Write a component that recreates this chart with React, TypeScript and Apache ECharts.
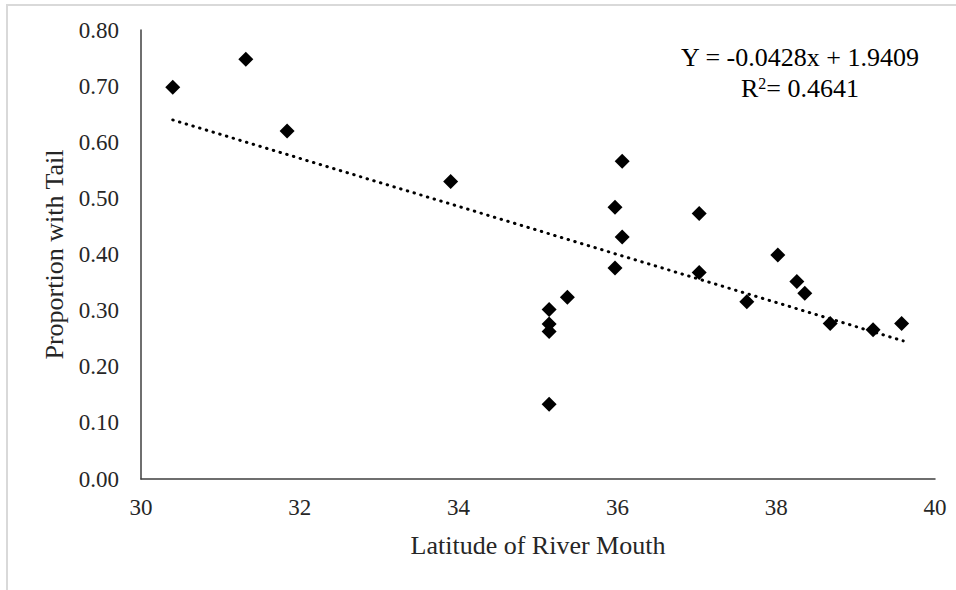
import React, { useEffect, useRef } from "react";
import * as echarts from "echarts";

const latitude = [30.4, 31.32, 31.84, 33.9, 35.14, 35.14, 35.14, 35.14, 35.37, 35.97, 35.97, 36.06, 36.06, 37.03, 37.03, 37.63, 38.02, 38.26, 38.36, 38.68, 39.22, 39.58];
const proportion = [0.698, 0.748, 0.62, 0.53, 0.302, 0.276, 0.263, 0.133, 0.324, 0.376, 0.484, 0.566, 0.431, 0.473, 0.368, 0.316, 0.399, 0.352, 0.331, 0.277, 0.266, 0.277];
const trendSlope = -0.0428;
const trendIntercept = 1.9409;
const trendX = [30.4, 39.6];
const equationText = ["Y = -0.0428x + 1.9409", "R{sup|2}= 0.4641"];

const FONT = "'Liberation Serif', 'Times New Roman', serif";

export default function App() {
  const ref = useRef<HTMLDivElement>(null);
  useEffect(() => {
    if (!ref.current) return;
    const chart = echarts.init(ref.current, null, { renderer: "svg" });
    const pts = latitude.map((x, i) => [x, proportion[i]]);
    const trend = trendX.map((x) => [x, trendSlope * x + trendIntercept]);
    chart.setOption({
      animation: false,
      backgroundColor: "#ffffff",
      grid: { left: 141, right: 21, top: 30, bottom: 111 },
      graphic: [
        {
          type: "rect",
          shape: { x: 7, y: 5, width: 1000, height: 700 },
          style: { fill: "none", stroke: "#d9d9d9", lineWidth: 2 },
          silent: true,
        },
        {
          type: "text",
          x: 800,
          y: 57,
          style: {
            text: equationText[0],
            font: "26px " + FONT,
            fill: "#000000",
            align: "center",
            verticalAlign: "middle",
          },
        },
        {
          type: "text",
          x: 800,
          y: 88,
          style: {
            text: equationText[1],
            font: "26px " + FONT,
            fill: "#000000",
            align: "center",
            verticalAlign: "middle",
            rich: {
              sup: { fontSize: 16, fontFamily: FONT, verticalAlign: "top", lineHeight: 26, padding: [0, 0, 14, 0] },
            },
          },
        },
      ],
      xAxis: {
        type: "value",
        min: 30,
        max: 40,
        interval: 2,
        splitLine: { show: false },
        axisLine: { show: true, lineStyle: { color: "#3f3f3f", width: 1.5 } },
        axisTick: { show: false },
        axisLabel: { color: "#262626", fontSize: 23, fontFamily: FONT, margin: 17 },
        name: "Latitude of River Mouth",
        nameLocation: "middle",
        nameGap: 53,
        nameTextStyle: { color: "#262626", fontSize: 26, fontFamily: FONT },
      },
      yAxis: {
        type: "value",
        min: 0,
        max: 0.8,
        interval: 0.1,
        splitLine: { show: false },
        axisLine: { show: true, lineStyle: { color: "#3f3f3f", width: 1.5 } },
        axisTick: { show: false },
        axisLabel: {
          color: "#262626",
          fontSize: 23,
          fontFamily: FONT,
          margin: 22,
          formatter: (v: number) => v.toFixed(2),
        },
        name: "Proportion with Tail",
        nameLocation: "middle",
        nameGap: 68,
        nameTextStyle: { color: "#262626", fontSize: 26, fontFamily: FONT },
      },
      series: [
        {
          type: "line",
          data: trend,
          symbol: "none",
          lineStyle: { color: "#000000", width: 3, type: [0.5, 6.5], cap: "round" },
          z: 1,
        },
        {
          type: "scatter",
          data: pts,
          symbol: "diamond",
          symbolSize: 15,
          itemStyle: { color: "#000000", opacity: 1 },
          z: 2,
        },
      ],
    });
    return () => chart.dispose();
  }, []);
  return (
    <div
      ref={ref}
      style={{ position: "fixed", left: 0, top: 0, width: 956, height: 590, background: "#fff" }}
    />
  );
}
